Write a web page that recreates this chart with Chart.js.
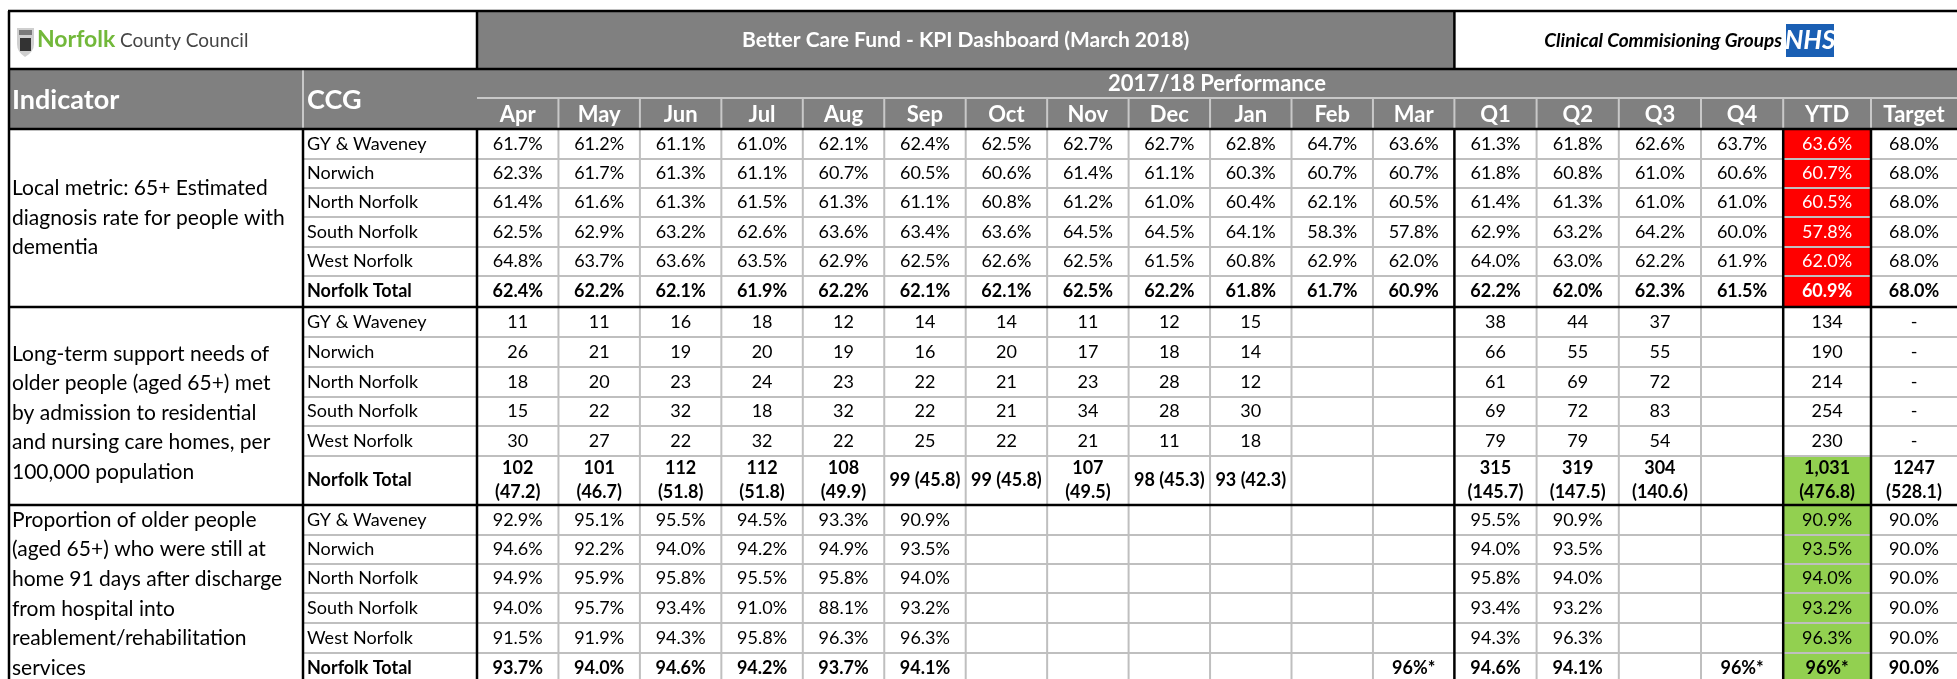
<!DOCTYPE html>
<html>
<head>
<meta charset="utf-8">
<script src="https://cdn.jsdelivr.net/npm/chart.js@4.4.1/dist/chart.umd.min.js"></script>
<style>
  html, body { margin: 0; padding: 0; background: #fff; }
  #wrap { width: 1957px; height: 679px; }
</style>
</head>
<body>
<div id="wrap"><canvas id="kpi" width="1957" height="679"></canvas></div>
<script>
// ---- data ----
const months = ["Apr", "May", "Jun", "Jul", "Aug", "Sep", "Oct", "Nov", "Dec", "Jan", "Feb", "Mar"];
const quarters = ["Q1", "Q2", "Q3", "Q4"];
const ccgs = ["GY & Waveney", "Norwich", "North Norfolk", "South Norfolk", "West Norfolk", "Norfolk Total"];
const indicators = [
  ["Local metric: 65+ Estimated", "diagnosis rate for people with", "dementia"],
  ["Long-term support needs of", "older people (aged 65+) met", "by admission to residential", "and nursing care homes, per", "100,000 population"],
  ["Proportion of older people", "(aged 65+) who were still at", "home 91 days after discharge", "from hospital into", "reablement/rehabilitation", "services"]
];

// dementia diagnosis rate, %
const dementiaMonthly = [
  [61.7, 61.2, 61.1, 61.0, 62.1, 62.4, 62.5, 62.7, 62.7, 62.8, 64.7, 63.6],
  [62.3, 61.7, 61.3, 61.1, 60.7, 60.5, 60.6, 61.4, 61.1, 60.3, 60.7, 60.7],
  [61.4, 61.6, 61.3, 61.5, 61.3, 61.1, 60.8, 61.2, 61.0, 60.4, 62.1, 60.5],
  [62.5, 62.9, 63.2, 62.6, 63.6, 63.4, 63.6, 64.5, 64.5, 64.1, 58.3, 57.8],
  [64.8, 63.7, 63.6, 63.5, 62.9, 62.5, 62.6, 62.5, 61.5, 60.8, 62.9, 62.0],
  [62.4, 62.2, 62.1, 61.9, 62.2, 62.1, 62.1, 62.5, 62.2, 61.8, 61.7, 60.9]
];
const dementiaQuarterly = [
  [61.3, 61.8, 62.6, 63.7],
  [61.8, 60.8, 61.0, 60.6],
  [61.4, 61.3, 61.0, 61.0],
  [62.9, 63.2, 64.2, 60.0],
  [64.0, 63.0, 62.2, 61.9],
  [62.2, 62.0, 62.3, 61.5]
];
const dementiaYTD = [63.6, 60.7, 60.5, 57.8, 62.0, 60.9];
const dementiaTarget = 68.0;

// admissions to care homes, count (rate per 100,000 on the total row)
const admissionsMonthly = [
  [11, 11, 16, 18, 12, 14, 14, 11, 12, 15, null, null],
  [26, 21, 19, 20, 19, 16, 20, 17, 18, 14, null, null],
  [18, 20, 23, 24, 23, 22, 21, 23, 28, 12, null, null],
  [15, 22, 32, 18, 32, 22, 21, 34, 28, 30, null, null],
  [30, 27, 22, 32, 22, 25, 22, 21, 11, 18, null, null],
  [102, 101, 112, 112, 108, 99, 99, 107, 98, 93, null, null]
];
const admissionsMonthlyRate = [47.2, 46.7, 51.8, 51.8, 49.9, 45.8, 45.8, 49.5, 45.3, 42.3, null, null];
const admissionsQuarterly = [
  [38, 44, 37, null],
  [66, 55, 55, null],
  [61, 69, 72, null],
  [69, 72, 83, null],
  [79, 79, 54, null],
  [315, 319, 304, null]
];
const admissionsQuarterlyRate = [145.7, 147.5, 140.6, null];
const admissionsYTD = [134, 190, 214, 254, 230, 1031];
const admissionsYTDRate = 476.8;
const admissionsTarget = 1247;
const admissionsTargetRate = 528.1;

// still at home 91 days after discharge, %
const dischargeMonthly = [
  [92.9, 95.1, 95.5, 94.5, 93.3, 90.9, null, null, null, null, null, null],
  [94.6, 92.2, 94.0, 94.2, 94.9, 93.5, null, null, null, null, null, null],
  [94.9, 95.9, 95.8, 95.5, 95.8, 94.0, null, null, null, null, null, null],
  [94.0, 95.7, 93.4, 91.0, 88.1, 93.2, null, null, null, null, null, null],
  [91.5, 91.9, 94.3, 95.8, 96.3, 96.3, null, null, null, null, null, null],
  [93.7, 94.0, 94.6, 94.2, 93.7, 94.1, null, null, null, null, null, 96]
];
const dischargeQuarterly = [
  [95.5, 90.9, null, null],
  [94.0, 93.5, null, null],
  [95.8, 94.0, null, null],
  [93.4, 93.2, null, null],
  [94.3, 96.3, null, null],
  [94.6, 94.1, null, 96]
];
const dischargeYTD = [90.9, 93.5, 94.0, 93.2, 96.3, 96];
const dischargeTarget = 90.0;
const dischargeEstimated = ["Mar", "Q4", "YTD"]; // total row, shown as "96%*"

// YTD RAG status per section / row
const ytdRag = [
  ["red", "red", "red", "red", "red", "red"],
  [null, null, null, null, null, "green"],
  ["green", "green", "green", "green", "green", "green"]
];

// ---- layout (pixel units on the linear scales) ----
const colEdges = [9, 303, 477];
for (let i = 1; i <= 12; i++) colEdges.push(477 + i * 81.45);
for (let i = 1; i <= 4; i++) colEdges.push(1454.4 + i * 82.2);
colEdges.push(1871, 1957);
const headerEdges = [11, 69, 98, 129];
const sectionRows = [
  [129, 159, 188, 217, 247, 276, 307],
  [307, 337, 367, 397, 426, 456, 505],
  [505, 535, 564, 593, 623, 653, 683]
];
const indicatorShift = [0, 7, 0];
const blackCols = [0, 1, 2, 14, 18, 19];
const GREY = "#808080", LIGHT = "#bfbfbf", RAG = { red: "#ff0000", green: "#92d050" };
const FONT = "Lato, 'Open Sans', sans-serif";

// ---- build cells ----
const pct = v => v == null ? "" : v.toFixed(1) + "%";
const num = v => v == null ? "" : String(v);
const colLabels = [...months, ...quarters, "YTD", "Target"];

function rowTexts(s, r) {
  const total = r === 5;
  if (s === 0) {
    return [...dementiaMonthly[r], ...dementiaQuarterly[r], dementiaYTD[r], dementiaTarget].map(pct);
  }
  if (s === 1) {
    if (!total) return [...admissionsMonthly[r].map(num), ...admissionsQuarterly[r].map(num), num(admissionsYTD[r]), "-"];
    return [
      ...admissionsMonthly[r].map((v, i) => v == null ? "" : v + " (" + admissionsMonthlyRate[i].toFixed(1) + ")"),
      ...admissionsQuarterly[r].map((v, i) => v == null ? "" : v + " (" + admissionsQuarterlyRate[i].toFixed(1) + ")"),
      admissionsYTD[r].toLocaleString("en-GB") + " (" + admissionsYTDRate.toFixed(1) + ")",
      admissionsTarget + " (" + admissionsTargetRate.toFixed(1) + ")"
    ];
  }
  const vals = [...dischargeMonthly[r], ...dischargeQuarterly[r], dischargeYTD[r], dischargeTarget];
  return vals.map((v, i) => {
    if (total && dischargeEstimated.includes(colLabels[i]) && v != null) return Math.round(v) + "%*";
    return pct(v);
  });
}

const cells = [];
sectionRows.forEach((edges, s) => {
  for (let r = 0; r < 6; r++) {
    const total = r === 5;
    const y0 = edges[r], y1 = edges[r + 1];
    cells.push({ x: colEdges[1] + 4, y: (y0 + y1) / 2, text: ccgs[r], bold: total, align: "left", w: 170 });
    rowTexts(s, r).forEach((t, i) => {
      const c = i + 2;
      const rag = c === 18 ? ytdRag[s][r] : null;
      cells.push({
        x: (colEdges[c] + colEdges[c + 1]) / 2, y: (y0 + y1) / 2, text: t, bold: total,
        align: "center", w: colEdges[c + 1] - colEdges[c], col: c, y0, y1, rag,
        color: rag === "red" ? "#ffffff" : "#000000"
      });
    });
  }
});

// ---- table plugin ----
const tablePlugin = {
  id: "kpiTable",
  beforeDatasetsDraw(chart) {
    const { ctx, scales: { x, y } } = chart;
    const px = v => x.getPixelForValue(v), py = v => y.getPixelForValue(v);
    const box = (x0, y0, x1, y1, fill) => {
      ctx.fillStyle = fill;
      ctx.fillRect(px(x0), py(y0), px(x1) - px(x0), py(y1) - py(y0));
    };
    const hl = (x0, x1, yy, col, w) => {
      ctx.strokeStyle = col; ctx.lineWidth = w; ctx.beginPath();
      ctx.moveTo(px(x0), py(yy)); ctx.lineTo(px(x1), py(yy)); ctx.stroke();
    };
    const vl = (xx, y0, y1, col, w) => {
      ctx.strokeStyle = col; ctx.lineWidth = w; ctx.beginPath();
      ctx.moveTo(px(xx), py(y0)); ctx.lineTo(px(xx), py(y1)); ctx.stroke();
    };
    const right = colEdges[colEdges.length - 1];
    ctx.save();
    // backgrounds
    box(colEdges[2], headerEdges[0], colEdges[14], headerEdges[1], GREY);
    box(colEdges[0], headerEdges[1], right, headerEdges[3], GREY);
    cells.forEach(c => { if (c.rag) box(colEdges[c.col], c.y0, colEdges[c.col + 1], c.y1, RAG[c.rag]); });

    // light grid
    hl(colEdges[2], right, headerEdges[2], "#c8c8c8", 2);
    vl(colEdges[1], headerEdges[1], headerEdges[3], "#c8c8c8", 2);
    for (let c = 3; c < colEdges.length - 1; c++) vl(colEdges[c], headerEdges[2], headerEdges[3], "#c8c8c8", 2);
    sectionRows.forEach(edges => {
      for (let r = 1; r < edges.length - 1; r++) hl(colEdges[1], right, edges[r], LIGHT, 2);
      for (let c = 3; c < colEdges.length - 1; c++) {
        if (!blackCols.includes(c)) vl(colEdges[c], edges[0], edges[edges.length - 1], LIGHT, 2);
      }
    });

    // black borders
    const bottom = sectionRows[2][6];
    [headerEdges[0], headerEdges[1], headerEdges[3], sectionRows[1][0], sectionRows[2][0]]
      .forEach(yy => hl(colEdges[0] - 1, right, yy, "#000", 2.5));
    vl(colEdges[0], headerEdges[0], bottom, "#000", 2.5);
    vl(colEdges[2], headerEdges[0], headerEdges[1], "#000", 2.5);
    vl(colEdges[14], headerEdges[0], headerEdges[1], "#000", 2.5);
    blackCols.slice(1).forEach(c => vl(colEdges[c], headerEdges[3], bottom, "#000", 2.5));

    // header texts
    const txt = (s, xx, yy, font, col, align) => {
      ctx.font = font; ctx.fillStyle = col; ctx.textAlign = align; ctx.textBaseline = "middle";
      ctx.fillText(s, px(xx), py(yy));
    };
    txt("Better Care Fund - KPI Dashboard (March 2018)", (colEdges[2] + colEdges[14]) / 2, 40, "bold 21px " + FONT, "#fff", "center");
    txt("Indicator", 12, 100, "bold 27px " + FONT, "#fff", "left");
    txt("CCG", colEdges[1] + 4, 100, "bold 27px " + FONT, "#fff", "left");
    txt("2017/18 Performance", (colEdges[2] + right) / 2, 84, "bold 22px " + FONT, "#fff", "center");
    colLabels.forEach((l, i) => txt(l, (colEdges[i + 2] + colEdges[i + 3]) / 2, 115, "bold 22px " + FONT, "#fff", "center"));

    // indicator descriptions
    indicators.forEach((lines, s) => {
      const e = sectionRows[s];
      const mid = (e[0] + e[e.length - 1]) / 2 + indicatorShift[s];
      lines.forEach((l, k) => txt(l, 12, mid + (k - (lines.length - 1) / 2) * 29.6, "21px " + FONT, "#000", "left"));
    });

    // Norfolk County Council logo
    ctx.fillStyle = "#cfcfcf";
    ctx.beginPath();
    ctx.moveTo(px(17), py(28)); ctx.lineTo(px(34), py(28)); ctx.lineTo(px(34), py(44));
    ctx.quadraticCurveTo(px(34), py(52), px(25), py(57)); ctx.quadraticCurveTo(px(17), py(52), px(17), py(44));
    ctx.closePath(); ctx.fill();
    ctx.fillStyle = "#333";
    ctx.fillRect(px(20), py(38), 11, 13);
    ctx.fillStyle = "#7a7a7a";
    ctx.fillRect(px(19), py(30), 13, 5);
    txt("Norfolk", 37, 40, "bold 23px " + FONT, "#72b83a", "left");
    txt("County Council", 120, 41, "19px " + FONT, "#444", "left");

    // CCG / NHS
    txt("Clinical Commisioning Groups", 1782, 41, "italic bold 19px " + FONT, "#000", "right");
    box(1786, 24, 1834, 57, "#1a5fb4");
    txt("NHS", 1810, 41, "italic bold 26px " + FONT, "#fff", "center");
    ctx.restore();
  },
  afterDatasetsDraw(chart) {
    const { ctx } = chart;
    const meta = chart.getDatasetMeta(0);
    const data = chart.data.datasets[0].data;
    ctx.save();
    ctx.textBaseline = "middle";
    meta.data.forEach((el, i) => {
      const c = data[i];
      if (!c.text) return;
      ctx.font = (c.bold ? "bold " : "") + "18px " + FONT;
      ctx.fillStyle = c.color || "#000";
      ctx.textAlign = c.align;
      if (c.align === "center" && ctx.measureText(c.text).width > c.w - 6 && c.text.includes(" ")) {
        const sp = c.text.indexOf(" ");
        ctx.fillText(c.text.slice(0, sp), el.x, el.y - 12);
        ctx.fillText(c.text.slice(sp + 1), el.x, el.y + 12);
      } else {
        ctx.fillText(c.text, el.x, el.y);
      }
    });
    ctx.restore();
  }
};

new Chart(document.getElementById("kpi"), {
  type: "scatter",
  data: {
    datasets: [{
      data: cells,
      pointRadius: 0,
      pointHoverRadius: 0
    }]
  },
  options: {
    responsive: false,
    animation: false,
    devicePixelRatio: 1,
    events: [],
    layout: { padding: 0 },
    plugins: { legend: { display: false }, tooltip: { enabled: false } },
    scales: {
      x: { type: "linear", min: 0, max: 1957, display: false },
      y: { type: "linear", min: 0, max: 679, reverse: true, display: false }
    }
  },
  plugins: [tablePlugin]
});
</script>
</body>
</html>
